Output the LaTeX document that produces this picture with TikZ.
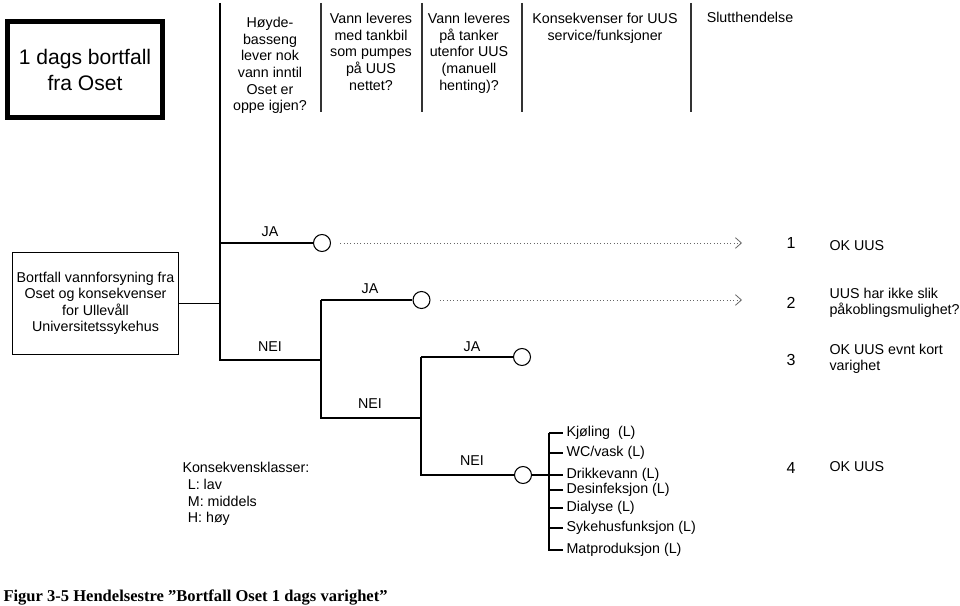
\documentclass[tikz,border=0pt]{standalone}
\usepackage{fontspec}
\setmainfont{Liberation Sans}
\newfontfamily\capserif{Liberation Serif}
\usetikzlibrary{arrows.meta}

\begin{document}
\begin{tikzpicture}[x=0.75pt, y=-0.75pt, line width=0.8pt,
  txt/.style={font=\fontsize{10.7}{12.4}\selectfont, align=center, inner sep=0pt},
  lbl/.style={font=\fontsize{10.7}{12}\selectfont, inner sep=0pt},
  num/.style={font=\fontsize{12}{12}\selectfont, inner sep=0pt},
  chance/.style={circle, draw, fill=white, minimum size=12.75pt, inner sep=0pt},
  dots/.style={dotted, draw=black!60, line width=0.5pt, shorten <=7pt,
    -{Straight Barb[length=4.5pt,width=8pt,line width=0.6pt]}},
  item/.style={font=\fontsize{10.7}{12}\selectfont, anchor=west, inner sep=0pt},
  outc/.style={font=\fontsize{10.7}{12.4}\selectfont, anchor=west, align=left, inner sep=0pt}]
\useasboundingbox (0,0) rectangle (960,606);

\node[draw, line width=3.75pt, minimum width=116pt, minimum height=72pt, inner sep=0pt,
  align=center, font=\fontsize{15.8}{19.5}\selectfont] (title) at (85,70) {1 dags bortfall\\fra Oset};

\foreach \x in {321,422,522,691} \draw[black!80] (\x,3) -- (\x,112);
\node[txt, anchor=north] (q1) at (270,17) {Høyde-\\basseng\\lever nok\\vann inntil\\Oset er\\oppe igjen?};
\node[txt, anchor=north] (q2) at (371,13) {Vann leveres\\med tankbil\\som pumpes\\på UUS\\nettet?};
\node[txt, anchor=north] (q3) at (469,13) {Vann leveres\\på tanker\\utenfor UUS\\(manuell\\henting)?};
\node[txt, anchor=north] (q4) at (605,13) {Konsekvenser for UUS\\service/funksjoner};
\node[txt, anchor=north] (q5) at (750,12) {Slutthendelse};

\node[draw, line width=0.75pt, txt, minimum width=125pt, minimum height=76pt] (root) at (95.5,303.5)
  {Bortfall vannforsyning fra\\Oset og konsekvenser\\for Ullevåll\\Universitetssykehus};

\coordinate (top) at (220,3);
\coordinate (j1) at (220,243);
\coordinate (n1) at (220,360);
\coordinate (j2) at (321,300);
\coordinate (n2) at (321,418);
\coordinate (j3) at (421,357);
\coordinate (n3) at (421,475);
\node[chance] (c1) at (322,243) {};
\node[chance] (c2) at (421.5,300) {};
\node[chance] (c3) at (522,357) {};
\node[chance] (c4) at (523,475) {};
\coordinate (e1) at (742,243);
\coordinate (e2) at (742,300);

\draw (root.east) -- (root.east -| top);
\draw (top) -- (n1) -- (n1 -| j2);
\draw (j1) -- (c1);
\draw (j2) -- (n2) -- (n2 -| j3);
\draw (j2) -- (c2);
\draw (j3) -- (n3) -- (c4);
\draw (j3) -- (c3);
\draw[dots] (c1) -- (e1);
\draw[dots] (c2) -- (e2);

\node[lbl] (l1) at (270,232) {JA};
\node[lbl] (l2) at (270,347) {NEI};
\node[lbl] (l3) at (370,289) {JA};
\node[lbl] (l4) at (370,404) {NEI};
\node[lbl] (l5) at (472,347) {JA};
\node[lbl] (l6) at (472,461) {NEI};

\node[item] (k1) at (566,433) {Kjøling\ \ (L)};
\node[item] (k2) at (566,453) {WC/vask (L)};
\node[item] (k3) at (566,475) {Drikkevann (L)};
\node[item] (k4) at (566,490) {Desinfeksjon (L)};
\node[item] (k5) at (566,508) {Dialyse (L)};
\node[item] (k6) at (566,528) {Sykehusfunksjon (L)};
\node[item] (k7) at (566,550) {Matproduksjon (L)};
\coordinate (br) at (549,433);
\draw (br) -- (br |- k7) -- ([xshift=-2.5pt]k7.west);
\draw (c4) -- ([xshift=-2.5pt]k3.west);
\foreach \k in {k1,k2,k4,k5,k6} \draw (br |- \k.west) -- ([xshift=-2.5pt]\k.west);

\node[num] (o1) at (791,243) {1};
\node[num] (o2) at (791,303) {2};
\node[num] (o3) at (791,360) {3};
\node[num] (o4) at (791,468) {4};
\node[outc] (s1) at (829,246) {OK UUS};
\node[outc] (s2) at (829,303) {UUS har ikke slik\\påkoblingsmulighet?};
\node[outc] (s3) at (829,359) {OK UUS evnt kort\\varighet};
\node[outc] (s4) at (829,467) {OK UUS};

\node[outc, font=\fontsize{10.7}{12.5}\selectfont] (klasser) at (182,494)
  {Konsekvensklasser:\\\hspace*{4pt}L: lav\\\hspace*{4pt}M: middels\\\hspace*{4pt}H: høy};

\node[anchor=west, inner sep=0pt, font=\capserif\bfseries\fontsize{12.4}{14}\selectfont] (caption) at (3,597)
  {Figur 3-5 Hendelsestre ”Bortfall Oset 1 dags varighet”};
\end{tikzpicture}
\end{document}
